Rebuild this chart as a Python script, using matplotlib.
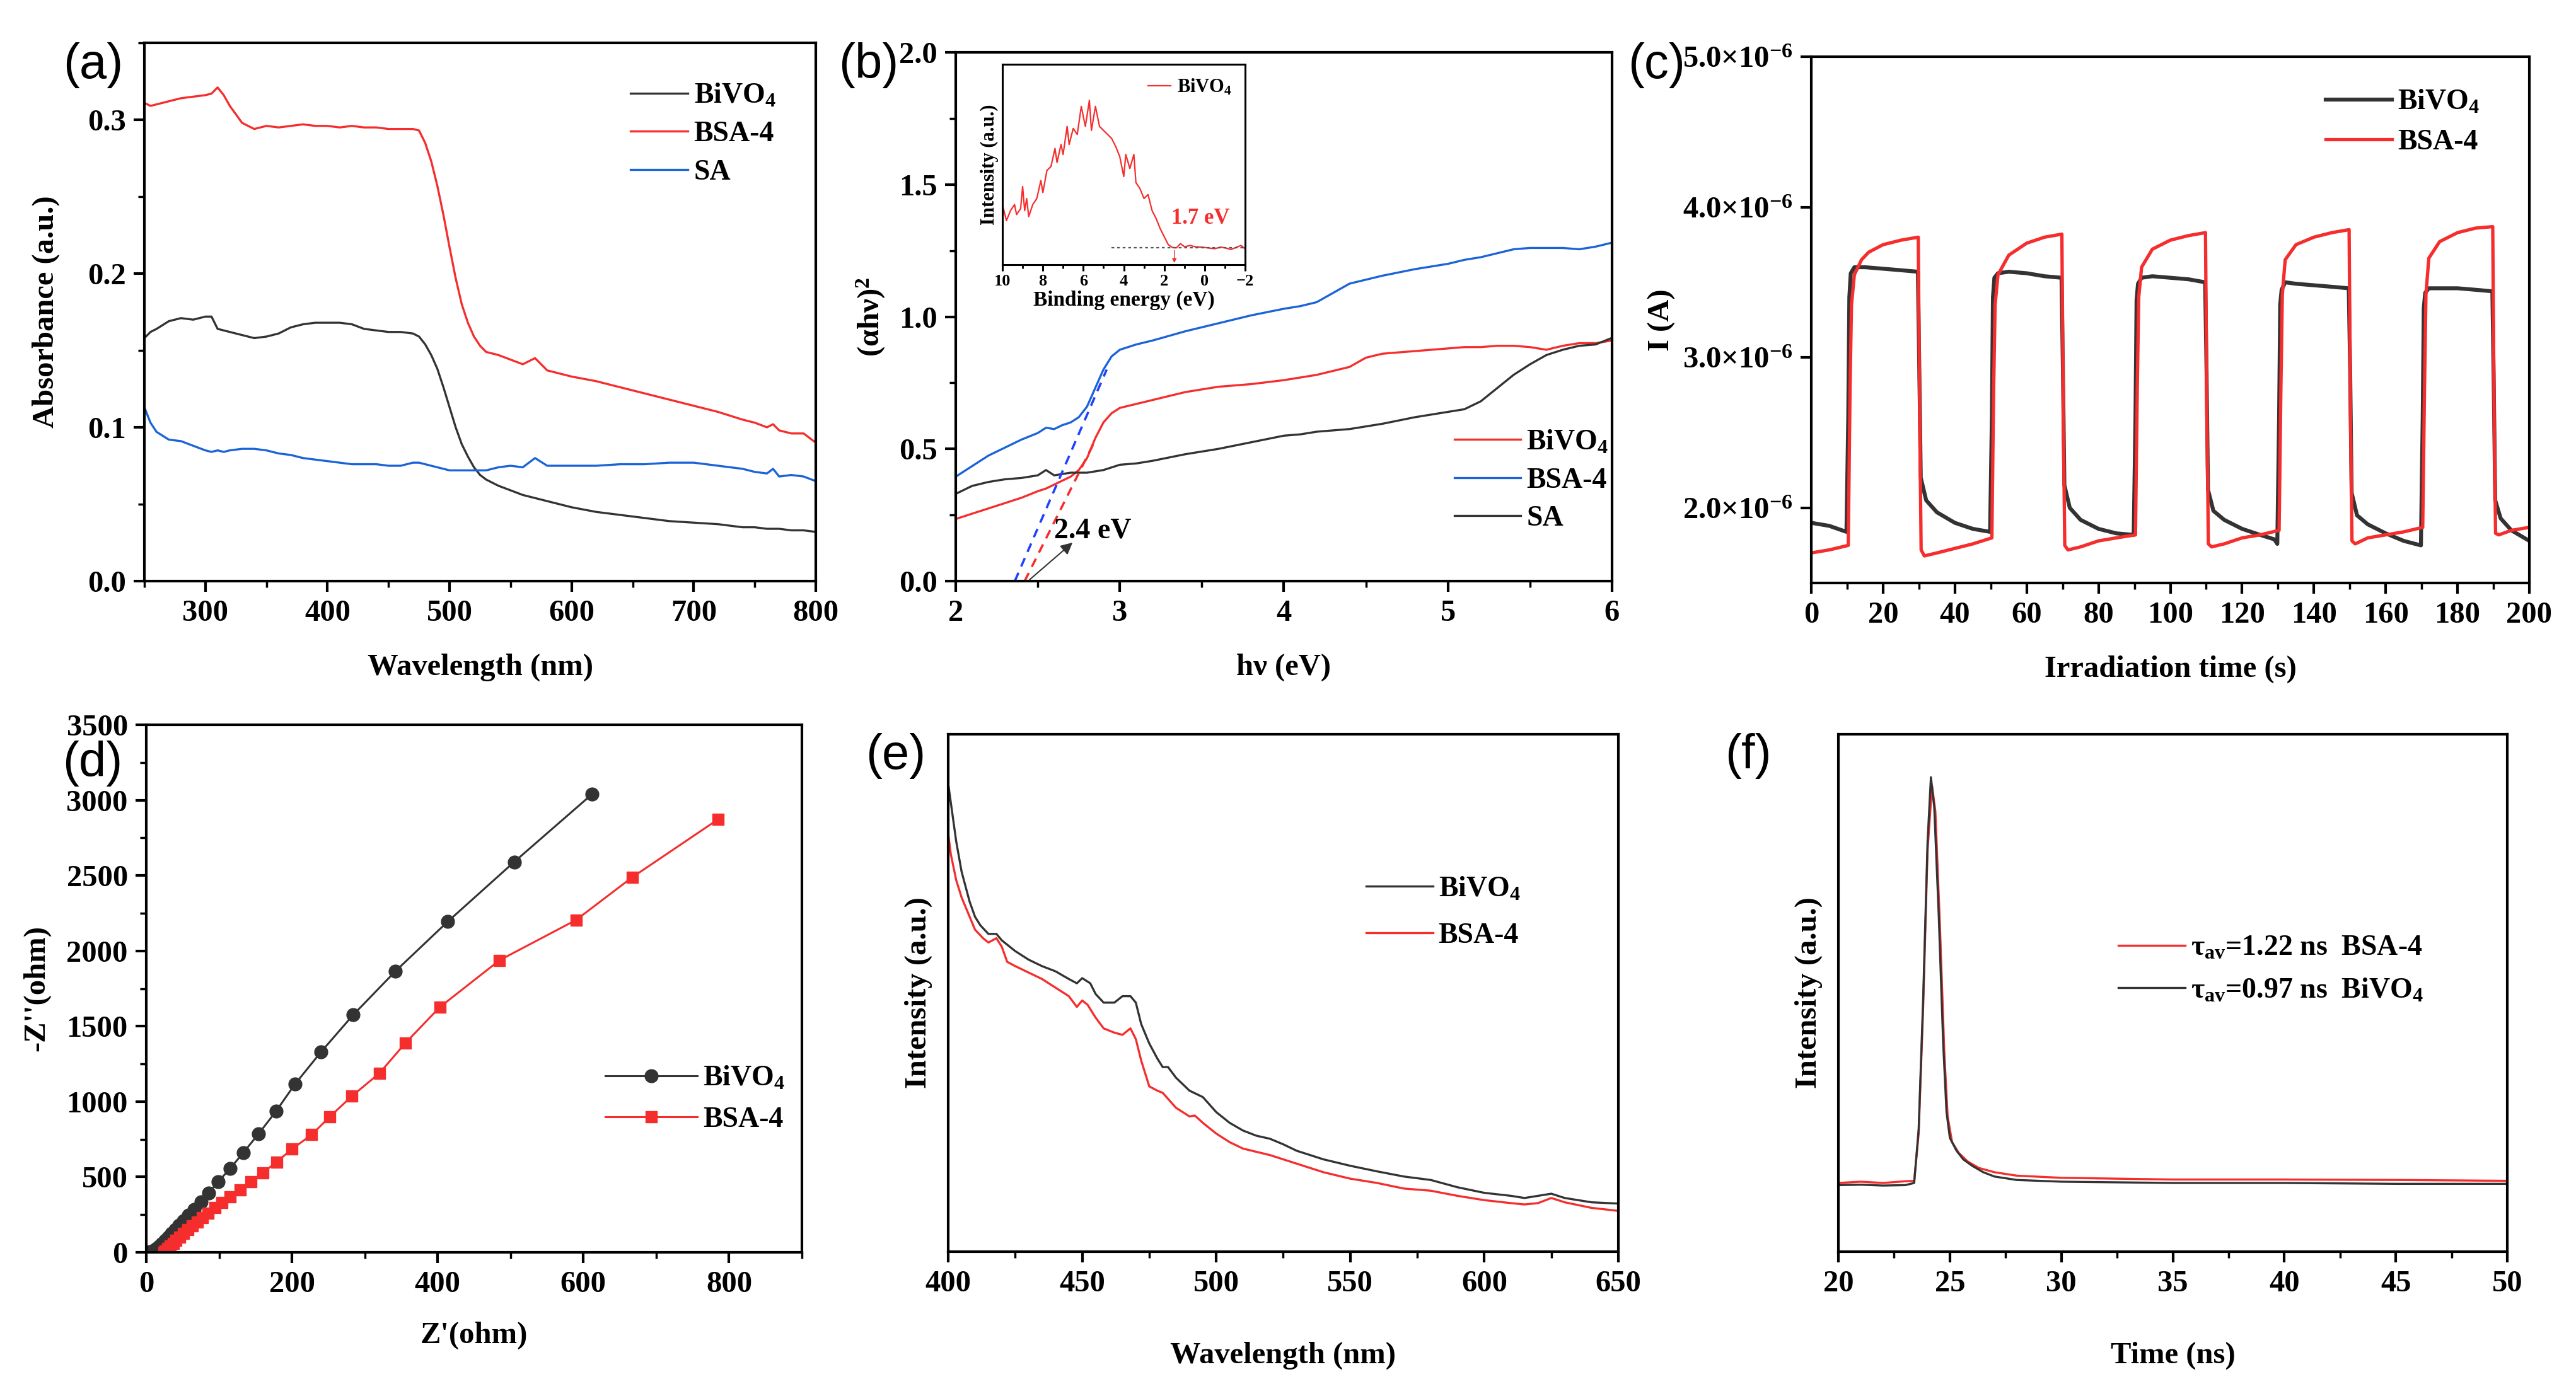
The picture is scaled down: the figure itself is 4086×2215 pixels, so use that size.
import matplotlib
matplotlib.use("Agg")
import matplotlib.pyplot as plt
from matplotlib.ticker import MultipleLocator

plt.rcParams.update({
    "font.family": ["Liberation Serif", "DejaVu Serif"],
    "font.weight": "bold",
    "axes.labelweight": "bold",
    "mathtext.fontset": "custom",
    "mathtext.rm": "Liberation Serif:bold",
    "mathtext.it": "Liberation Serif:italic:bold",
    "mathtext.bf": "Liberation Serif:bold",
    "axes.linewidth": 3,
})

BLACK = "#333333"
RED = "#f52d2d"
BLUE = "#1a63d8"

# ---------------- (a) UV-vis absorbance ----------------
a_wl = [250, 255, 260, 270, 280, 290, 300, 305, 310, 315, 320, 330, 340, 350, 360, 370, 380, 390,
        400, 410, 420, 430, 440, 450, 460, 470, 475, 480, 485, 490, 495, 500, 505, 510, 515, 520,
        525, 530, 540, 550, 560, 570, 580, 590, 600, 620, 640, 660, 680, 700, 720, 740, 750, 760,
        765, 770, 780, 790, 800]
a_bivo4 = [.158, .162, .164, .169, .171, .170, .172, .172, .164, .163, .162, .160, .158, .159, .161,
           .165, .167, .168, .168, .168, .167, .164, .163, .162, .162, .161, .159, .154, .147, .138,
           .126, .113, .100, .089, .081, .074, .069, .066, .062, .059, .056, .054, .052, .050, .048,
           .045, .043, .041, .039, .038, .037, .035, .035, .034, .034, .034, .033, .033, .032]
a_bsa4 = [.311, .309, .310, .312, .314, .315, .316, .317, .321, .316, .309, .298, .294, .296, .295,
          .296, .297, .296, .296, .295, .296, .295, .295, .294, .294, .294, .293, .285, .273, .257,
          .238, .217, .197, .180, .168, .159, .153, .149, .147, .144, .141, .145, .137, .135, .133,
          .130, .126, .122, .118, .114, .110, .105, .103, .100, .102, .098, .096, .096, .090]
a_sa = [.113, .103, .097, .092, .091, .088, .085, .084, .085, .084, .085, .086, .086, .085, .083,
        .082, .080, .079, .078, .077, .076, .076, .076, .075, .075, .077, .077, .076, .075, .074,
        .073, .072, .072, .072, .072, .072, .072, .072, .074, .075, .074, .080, .075, .075, .075,
        .075, .076, .076, .077, .077, .075, .073, .071, .070, .073, .068, .069, .068, .065]

# ---------------- (b) Tauc plot + VB-XPS inset ----------------
b_e = [2.0, 2.1, 2.2, 2.3, 2.4, 2.5, 2.55, 2.6, 2.65, 2.7, 2.75, 2.8, 2.85, 2.9, 2.95, 3.0, 3.1,
       3.2, 3.4, 3.6, 3.8, 4.0, 4.1, 4.2, 4.3, 4.4, 4.5, 4.6, 4.8, 5.0, 5.1, 5.2, 5.3, 5.4, 5.5,
       5.6, 5.7, 5.8, 5.9, 6.0]
b_bivo4 = [.235, .255, .275, .295, .315, .34, .35, .365, .38, .395, .42, .465, .54, .60, .635, .655,
           .67, .685, .715, .735, .745, .76, .77, .78, .795, .81, .845, .86, .87, .88, .885, .885,
           .89, .89, .885, .875, .89, .90, .90, .91]
b_bsa4 = [.395, .435, .475, .505, .535, .56, .58, .575, .59, .60, .62, .66, .73, .80, .85, .875,
          .895, .91, .945, .975, 1.005, 1.03, 1.04, 1.055, 1.09, 1.125, 1.14, 1.155, 1.18, 1.20,
          1.215, 1.225, 1.24, 1.255, 1.26, 1.26, 1.26, 1.255, 1.265, 1.28]
b_sa = [.33, .36, .375, .385, .39, .40, .42, .40, .405, .41, .41, .41, .415, .42, .43, .44, .445,
        .455, .48, .50, .525, .55, .555, .565, .57, .575, .585, .595, .62, .64, .65, .68, .73, .78,
        .82, .855, .875, .89, .895, .92]
b_tan_blue_x = [2.36, 2.92]
b_tan_blue_y = [0.0, 0.80]
b_tan_red_x = [2.42, 2.84]
b_tan_red_y = [0.0, 0.52]

ins_be = [10.0, 9.8, 9.6, 9.4, 9.3, 9.1, 9.0, 8.9, 8.8, 8.7, 8.5, 8.3, 8.1, 8.0, 7.8, 7.6, 7.4,
          7.3, 7.1, 7.0, 6.8, 6.7, 6.5, 6.3, 6.1, 5.9, 5.7, 5.6, 5.4, 5.2, 5.0, 4.8, 4.6, 4.4, 4.2,
          4.0, 3.9, 3.7, 3.5, 3.4, 3.2, 3.0, 2.8, 2.6, 2.4, 2.2, 2.0, 1.8, 1.6, 1.4, 1.2, 1.0, 0.7,
          0.5, 0.2, 0.0, -0.3, -0.5, -0.8, -1.0, -1.3, -1.5, -1.8, -2.0]
ins_int = [30, 22, 27, 30, 25, 28, 39, 27, 33, 24, 30, 33, 42, 36, 47, 49, 58, 51, 60, 55, 69, 60,
           68, 65, 79, 69, 82, 67, 79, 69, 67, 65, 63, 59, 54, 44, 55, 48, 55, 41, 38, 33, 35, 27,
           23, 18, 14, 10, 8.6, 8.4, 10.5, 9, 9.6, 9, 8.8, 8.6, 8.2, 8, 8.8, 8.4, 7.6, 8.4, 9.6, 7.9]
ins_base_x = [4.6, -2.0]
ins_base_y = [8.4, 8.4]

# ---------------- (c) transient photocurrent (units of 1e-6 A) ----------------
c_t_bivo4 = [0, 5, 9.8, 10.3, 10.6, 11, 12, 15, 20, 25, 29.7, 30.1, 30.5, 32, 35, 40, 45, 49.8,
             50.3, 50.6, 51, 52, 55, 60, 65, 69.7, 70.1, 70.5, 72, 75, 80, 85, 89.8, 90.3, 90.6,
             91, 92, 95, 100, 105, 109.7, 110.1, 110.5, 112, 115, 120, 125, 129, 129.8, 130.3,
             130.6, 131, 132, 135, 140, 145, 149.7, 150.1, 150.5, 152, 155, 160, 165, 169.8, 170.3,
             170.6, 171, 172, 175, 180, 185, 189.7, 190.1, 190.5, 192, 195, 200]
c_i_bivo4 = [1.90, 1.88, 1.84, 2.6, 3.40, 3.56, 3.60, 3.60, 3.59, 3.58, 3.57, 2.9, 2.20, 2.05,
             1.97, 1.90, 1.86, 1.84, 2.6, 3.40, 3.53, 3.56, 3.57, 3.56, 3.54, 3.53, 2.9, 2.15,
             2.00, 1.92, 1.86, 1.83, 1.82, 2.6, 3.38, 3.49, 3.53, 3.54, 3.53, 3.52, 3.50, 2.9,
             2.12, 1.98, 1.92, 1.86, 1.82, 1.79, 1.76, 2.6, 3.35, 3.45, 3.50, 3.49, 3.48, 3.47,
             3.46, 2.9, 2.10, 1.95, 1.89, 1.83, 1.78, 1.75, 2.6, 3.33, 3.43, 3.46, 3.46, 3.46,
             3.45, 3.44, 2.8, 2.05, 1.93, 1.85, 1.78]
c_t_bsa4 = [0, 5, 10.3, 10.8, 11.2, 12, 14, 16, 20, 25, 29.8, 30.2, 30.6, 31.5, 35, 40, 45, 50.3,
            50.8, 51.2, 52, 55, 60, 65, 69.8, 70.2, 70.6, 71.5, 75, 80, 85, 90.3, 90.8, 91.2, 92,
            95, 100, 105, 109.8, 110.2, 110.6, 111.5, 115, 120, 125, 130.3, 130.8, 131.2, 132, 135,
            140, 145, 149.8, 150.2, 150.6, 151.5, 155, 160, 165, 170.3, 170.8, 171.2, 172, 175,
            180, 185, 189.8, 190.2, 190.6, 191.5, 195, 200]
c_i_bsa4 = [1.70, 1.72, 1.75, 2.8, 3.35, 3.55, 3.65, 3.70, 3.75, 3.78, 3.80, 2.6, 1.72, 1.68,
            1.70, 1.73, 1.76, 1.80, 2.8, 3.35, 3.55, 3.68, 3.76, 3.80, 3.82, 2.6, 1.75, 1.72,
            1.74, 1.78, 1.80, 1.82, 2.8, 3.40, 3.60, 3.72, 3.78, 3.81, 3.83, 2.6, 1.76, 1.74,
            1.76, 1.80, 1.82, 1.85, 2.8, 3.42, 3.65, 3.75, 3.80, 3.83, 3.85, 2.6, 1.78, 1.76,
            1.80, 1.82, 1.84, 1.87, 2.8, 3.42, 3.66, 3.77, 3.83, 3.86, 3.87, 2.6, 1.83, 1.82,
            1.85, 1.87]
c_yticks = [2.0e-6, 3.0e-6, 4.0e-6, 5.0e-6]
c_yticklabels = [r"2.0$\times$10$^{-6}$", r"3.0$\times$10$^{-6}$",
                 r"4.0$\times$10$^{-6}$", r"5.0$\times$10$^{-6}$"]

# ---------------- (d) EIS Nyquist ----------------
d_re_bivo4 = [0, 5, 10, 14, 18, 22, 26, 30, 35, 40, 45, 51, 58, 66, 75, 86, 99, 115, 133, 154, 178,
              204, 240, 284, 342, 414, 505, 612]
d_im_bivo4 = [2, 6, 14, 25, 40, 58, 78, 100, 125, 150, 178, 210, 245, 285, 335, 395, 470, 555,
              660, 785, 935, 1115, 1330, 1575, 1865, 2195, 2590, 3040]
d_re_bsa4 = [24, 26, 29, 33, 37, 41, 46, 51, 57, 63, 70, 77, 85, 94, 104, 115, 129, 144, 160, 179,
             200, 227, 252, 282, 320, 356, 403, 485, 590, 667, 785]
d_im_bsa4 = [0, 10, 25, 42, 60, 80, 102, 125, 150, 175, 200, 230, 260, 295, 330, 370, 415, 468,
             528, 600, 685, 780, 900, 1035, 1188, 1390, 1627, 1938, 2205, 2488, 2873]

# ---------------- (e) PL spectra ----------------
e_wl_bivo4 = [400, 401, 403, 405, 408, 410, 412, 415, 418, 420, 425, 430, 435, 440, 445, 448, 450,
              453, 455, 458, 462, 465, 468, 470, 472, 475, 478, 480, 482, 485, 490, 495, 500, 505,
              510, 515, 520, 525, 530, 540, 550, 560, 570, 580, 590, 600, 610, 615, 620, 625, 630,
              640, 650]
e_pl_bivo4 = [109, 104.5, 95.5, 88.5, 81.5, 78, 76, 74, 74, 72.5, 70, 68, 66.5, 65.3, 63.5, 62.5,
              63.7, 62.5, 60, 58, 58, 59.5, 59.5, 58, 53, 48.5, 45, 43, 43, 40.5, 37.5, 36, 32.5,
              30, 28.2, 27, 26.3, 25, 23.5, 21.5, 20, 18.7, 17.5, 16.7, 15, 13.7, 13, 12.5, 13,
              13.5, 12.5, 11.5, 11.2]
e_wl_bsa4 = [400, 401, 403, 405, 408, 410, 413, 415, 418, 420, 422, 425, 430, 435, 440, 445, 448,
             450, 452, 455, 458, 462, 465, 468, 470, 472, 475, 478, 480, 485, 490, 492, 495, 500,
             505, 510, 520, 530, 540, 550, 560, 570, 580, 590, 600, 610, 615, 620, 625, 630, 640,
             650]
e_pl_bsa4 = [97.3, 92.5, 86.5, 82.5, 78, 75, 73, 72, 73, 71, 67.5, 66.5, 65, 63.5, 61.5, 59.5, 57,
             58.5, 57.5, 54.5, 52, 51, 50.5, 52, 49.5, 44.5, 38.5, 37.5, 37, 33.5, 31.5, 31.7, 30,
             27.5, 25.5, 24, 22.5, 20.5, 18.5, 17, 16, 14.7, 14.2, 13, 12, 11.3, 11, 11.3, 12.5,
             11.5, 10.2, 9.5]

# ---------------- (f) TRPL decay ----------------
f_t_bsa4 = [20, 21, 22, 23, 23.4, 23.6, 23.8, 24.0, 24.2, 24.35, 24.55, 24.75, 24.9, 25.1, 25.4,
            25.8, 26.3, 27, 28, 30, 35, 40, 45, 50]
f_i_bsa4 = [16, 16.3, 16, 16.4, 16.5, 27.5, 56.5, 93.5, 108.5, 102.5, 76.5, 46.5, 31.5, 25.5, 23,
            21, 19.5, 18.5, 17.7, 17.2, 16.8, 16.8, 16.7, 16.5]
f_t_bivo4 = [20, 21, 22, 23, 23.4, 23.6, 23.8, 24.0, 24.15, 24.3, 24.5, 24.7, 24.85, 25.0, 25.3,
             25.6, 26, 26.5, 27, 28, 30, 35, 40, 45, 50]
f_i_bivo4 = [15.5, 15.6, 15.4, 15.5, 16, 28.5, 58.5, 95.5, 110.5, 103.5, 78.5, 48.5, 32.5, 26.5,
             23.5, 21.5, 20, 18.5, 17.5, 16.7, 16.3, 16, 16, 15.8, 15.8]

W, H = 4086, 2215
fig = plt.figure(figsize=(W / 100, H / 100), dpi=100)
fig.patch.set_facecolor("white")


def add_ax(left, top, right, bottom):
    return fig.add_axes([left / W, 1 - bottom / H, (right - left) / W, (bottom - top) / H])


def style(ax, xmin=None, ymin=None, size=35):
    ax.tick_params(which="major", direction="out", length=12, width=3, labelsize=size, pad=9,
                   top=False, right=False)
    ax.tick_params(which="minor", direction="out", length=7, width=2.5, top=False, right=False)
    if xmin:
        ax.xaxis.set_minor_locator(MultipleLocator(xmin))
    if ymin:
        ax.yaxis.set_minor_locator(MultipleLocator(ymin))
    for lab in ax.get_xticklabels() + ax.get_yticklabels():
        lab.set_fontweight("bold")


LEG = dict(frameon=False, prop={"size": 33, "weight": "bold"}, handletextpad=0.2,
           loc="center left")

# (a)
ax = add_ax(229, 68, 1294, 922)
ax.plot(a_wl, a_bivo4, color=BLACK, lw=2.4, label="BiVO$_4$")
ax.plot(a_wl, a_bsa4, color=RED, lw=2.4, label="BSA-4")
ax.plot(a_wl, a_sa, color=BLUE, lw=2.4, label="SA")
ax.set_xlim(250, 800)
ax.set_ylim(0, 0.35)
ax.set_xticks([300, 400, 500, 600, 700, 800])
ax.set_yticks([0.0, 0.1, 0.2, 0.3])
ax.yaxis.set_major_formatter(matplotlib.ticker.FormatStrFormatter("%.1f"))
style(ax, 50, 0.05)
ax.set_xlabel("Wavelength (nm)", fontsize=35, labelpad=30)
ax.set_ylabel("Absorbance (a.u.)", fontsize=35, labelpad=32)
ax.legend(bbox_to_anchor=(0.685, 0.83), labelspacing=0.4, handlelength=2.0, **LEG)

# (b)
ax = add_ax(1516, 83, 2557, 922)
ax.plot(b_e, b_bivo4, color=RED, lw=2.4, label="BiVO$_4$")
ax.plot(b_e, b_bsa4, color=BLUE, lw=2.4, label="BSA-4")
ax.plot(b_e, b_sa, color=BLACK, lw=2.4, label="SA")
ax.plot(b_tan_blue_x, b_tan_blue_y, color="#2040ff", lw=2.6, ls=(0, (4, 3)))
ax.plot(b_tan_red_x, b_tan_red_y, color=RED, lw=2.6, ls=(0, (4, 3)))
ax.annotate("", xy=(2.72, 0.15), xytext=(2.44, 0.0),
            arrowprops=dict(arrowstyle="-|>", color="#333333", lw=1.5, mutation_scale=28))
ax.text(2.6, 0.19, "2.4 eV", fontsize=33, fontweight="bold", ha="left", va="center")
ax.set_xlim(2, 6)
ax.set_ylim(0, 2.0)
ax.set_xticks([2, 3, 4, 5, 6])
ax.set_yticks([0.0, 0.5, 1.0, 1.5, 2.0])
ax.yaxis.set_major_formatter(matplotlib.ticker.FormatStrFormatter("%.1f"))
style(ax, 0.5, 0.25)
ax.set_xlabel("hν (eV)", fontsize=35, labelpad=30)
ax.set_ylabel("(αhν)$^2$", fontsize=35, labelpad=14)
ax.legend(bbox_to_anchor=(0.72, 0.19), labelspacing=0.4, handlelength=2.3, **LEG)

ins = add_ax(1590, 102, 1975, 420)
ins.plot(ins_be, ins_int, color=RED, lw=1.6, label="BiVO$_4$")
ins.plot(ins_base_x, ins_base_y, color="#555555", lw=1.6, ls=(0, (2, 2)))
ins.annotate("", xy=(1.5, 0), xytext=(1.5, 8.0),
             arrowprops=dict(arrowstyle="-|>", color=RED, lw=1.0, mutation_scale=10))
ins.text(0.2, 23, "1.7 eV", color=RED, fontsize=25, fontweight="bold", ha="center", va="center")
ins.set_xlim(10, -2)
ins.set_ylim(0, 100)
ins.set_xticks([10, 8, 6, 4, 2, 0, -2])
ins.set_yticks([])
for s in ins.spines.values():
    s.set_linewidth(2.2)
ins.tick_params(which="major", direction="out", length=7, width=2.2, labelsize=19, pad=4)
ins.tick_params(which="minor", direction="out", length=4, width=2)
ins.xaxis.set_minor_locator(MultipleLocator(1))
ins.set_xlabel("Binding energy (eV)", fontsize=24, labelpad=2)
ins.set_ylabel("Intensity (a.u.)", fontsize=22, labelpad=4)
ins.legend(frameon=False, prop={"size": 22, "weight": "bold"}, handlelength=1.2,
           handletextpad=0.3, loc="upper right", borderaxespad=0.3)

# (c)
ax = add_ax(2873, 90, 4012, 925)
ax.plot(c_t_bivo4, [v * 1e-6 for v in c_i_bivo4], color=BLACK, lw=4.5, label="BiVO$_4$")
ax.plot(c_t_bsa4, [v * 1e-6 for v in c_i_bsa4], color=RED, lw=3.8, label="BSA-4")
ax.set_xlim(0, 200)
ax.set_ylim(1.5e-6, 5.0e-6)
ax.set_xticks(range(0, 201, 20))
ax.set_yticks(c_yticks)
ax.set_yticklabels(c_yticklabels)
style(ax, 10)
ax.set_xlabel("Irradiation time (s)", fontsize=35, labelpad=30)
ax.set_ylabel("I (A)", fontsize=35, labelpad=8)
ax.legend(bbox_to_anchor=(0.68, 0.875), labelspacing=0.45, handlelength=2.3, **LEG)

# (d)
ax = add_ax(232, 1150, 1272, 1987)
ax.plot(d_re_bivo4, d_im_bivo4, color=BLACK, lw=2.2, marker="o", ms=15, label="BiVO$_4$")
ax.plot(d_re_bsa4, d_im_bsa4, color=RED, lw=2.2, marker="s", ms=13, label="BSA-4")
ax.set_xlim(0, 900)
ax.set_ylim(0, 3500)
ax.set_xticks([0, 200, 400, 600, 800])
ax.set_yticks(range(0, 3501, 500))
style(ax, 100, 250)
ax.set_xlabel("Z'(ohm)", fontsize=35, labelpad=26)
ax.set_ylabel("-Z''(ohm)", fontsize=35, labelpad=18)
ax.legend(bbox_to_anchor=(0.66, 0.29), labelspacing=0.5, numpoints=1, handlelength=3.2, **LEG)

# (e)
ax = add_ax(1504, 1165, 2567, 1986)
ax.plot(e_wl_bivo4, e_pl_bivo4, color=BLACK, lw=2.4, label="BiVO$_4$")
ax.plot(e_wl_bsa4, e_pl_bsa4, color=RED, lw=2.4, label="BSA-4")
ax.set_xlim(400, 650)
ax.set_ylim(0, 120.5)
ax.set_xticks([400, 450, 500, 550, 600, 650])
ax.set_yticks([])
style(ax, 25)
ax.set_xlabel("Wavelength (nm)", fontsize=35, labelpad=50)
ax.set_ylabel("Intensity (a.u.)", fontsize=35, labelpad=18)
ax.legend(bbox_to_anchor=(0.585, 0.655), labelspacing=0.7, handlelength=2.3, **LEG)

# (f)
ax = add_ax(2916, 1165, 3977, 1986)
ax.plot(f_t_bsa4, f_i_bsa4, color=RED, lw=2.4, label=r"τ$_{\mathregular{av}}$=1.22 ns  BSA-4")
ax.plot(f_t_bivo4, f_i_bivo4, color=BLACK, lw=2.4, label=r"τ$_{\mathregular{av}}$=0.97 ns  BiVO$_4$")
ax.set_xlim(20, 50)
ax.set_ylim(0, 120.5)
ax.set_xticks(range(20, 51, 5))
ax.set_yticks([])
style(ax, 2.5)
ax.set_xlabel("Time (ns)", fontsize=35, labelpad=50)
ax.set_ylabel("Intensity (a.u.)", fontsize=35, labelpad=18)
ax.legend(bbox_to_anchor=(0.38, 0.545), labelspacing=0.55, handlelength=2.3, **LEG)

# panel letters
for lab, x, y in [("(a)", 148, 104), ("(b)", 1378, 104), ("(c)", 2628, 103),
                  ("(d)", 147, 1212), ("(e)", 1421, 1199), ("(f)", 2773, 1199)]:
    fig.text(x / W, 1 - y / H, lab, ha="center", va="center", fontsize=56,
             family="Liberation Sans", fontweight="normal")

fig.savefig("out.png", dpi=100, facecolor="white")
